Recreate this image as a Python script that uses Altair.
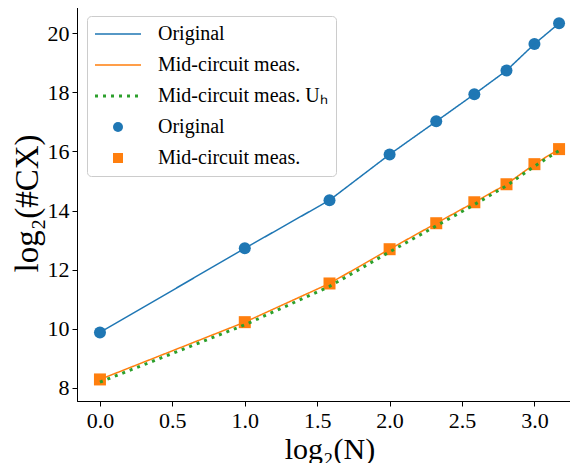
import altair as alt
import pandas as pd

# log2(N) for N = 1..9
x_vals = [0.0, 1.0, 1.585, 2.0, 2.322, 2.585, 2.807, 3.0, 3.170]
orig_vals = [9.87, 12.72, 14.35, 15.90, 17.02, 17.94, 18.74, 19.64, 20.34]
mid_vals = [8.28, 10.22, 11.53, 12.69, 13.57, 14.28, 14.89, 15.57, 16.08]
uh_vals = [8.19, 10.13, 11.43, 12.60, 13.48, 14.20, 14.84, 15.50, 16.03]

entries = ["Original", "Mid-circuit meas.", "Mid-circuit meas. Uₕ",
           "Original ", "Mid-circuit meas. "]
colors = ["#1f77b4", "#ff7f0e", "#2ca02c", "#1f77b4", "#ff7f0e"]
dashes = [[1, 0], [1, 0], [3, 5], [1, 0], [1, 0]]
widths = [1.5, 1.5, 3, 0, 0]
shapes = ["M-4.6,0H4.6", "M-4.6,0H4.6", "M-4.6,0H4.6", "circle", "square"]

x_ticks = [0.0, 0.5, 1.0, 1.5, 2.0, 2.5, 3.0]
y_ticks = [8, 10, 12, 14, 16, 18, 20]

FONT = "Liberation Serif"

rows_line = []
for name, ys in [(entries[0], orig_vals), (entries[1], mid_vals), (entries[2], uh_vals)]:
    for i, (xv, yv) in enumerate(zip(x_vals, ys)):
        rows_line.append({"x": xv, "y": yv, "entry": name, "i": i})
lines_df = pd.DataFrame(rows_line)

rows_pt = []
for name, ys in [(entries[3], orig_vals), (entries[4], mid_vals)]:
    for xv, yv in zip(x_vals, ys):
        rows_pt.append({"x": xv, "y": yv, "entry": name})
pts_df = pd.DataFrame(rows_pt)

xs = alt.X("x:Q", scale=alt.Scale(domain=[-0.1585, 3.3284], nice=False, zero=False),
           axis=alt.Axis(values=x_ticks, format=".1f", title="log₂(N)",
                         titlePadding=3, labelPadding=4, titleFontSize=30))
ys = alt.Y("y:Q", scale=alt.Scale(domain=[7.55, 20.96], nice=False, zero=False),
           axis=alt.Axis(values=y_ticks, format="d", title="log₂(#CX)",
                         titlePadding=3, labelPadding=3, titleFontSize=33))

leg = alt.Legend(title=None)

color_enc = alt.Color("entry:N", scale=alt.Scale(domain=entries, range=colors), legend=leg)

points = alt.Chart(pts_df).mark_point(filled=True, opacity=1, size=144).encode(
    x=xs, y=ys, color=color_enc,
    shape=alt.Shape("entry:N", scale=alt.Scale(domain=entries, range=shapes), legend=leg),
)

lines = alt.Chart(lines_df).mark_line().encode(
    x=xs, y=ys, color=color_enc,
    strokeDash=alt.StrokeDash("entry:N", scale=alt.Scale(domain=entries, range=dashes), legend=leg),
    strokeWidth=alt.StrokeWidth("entry:N", scale=alt.Scale(type="ordinal", domain=entries, range=widths),
                                legend=leg),
    order="i:Q",
)

chart = alt.layer(points, lines).properties(
    width=505, height=396,
    autosize=alt.AutoSizeParams(type="none"),
    padding={"left": 69, "top": -3, "right": -12, "bottom": 62},
).configure(
    font=FONT,
    style={"guide-label": {"font": FONT, "fontWeight": "normal"},
           "guide-title": {"font": FONT, "fontWeight": "normal"}},
).configure_view(
    stroke="black", strokeWidth=1
).configure_axis(
    grid=False,
    domainColor="black", domainWidth=1,
    tickColor="black", tickSize=5, tickWidth=1,
    labelFont=FONT, labelFontSize=22, labelColor="black", labelFontWeight="normal",
    titleFont=FONT, titleFontWeight="normal", titleColor="black",
).configure_legend(
    orient="none", legendX=10, legendY=11,
    padding=8, strokeColor="#cccccc", cornerRadius=4, fillColor="rgba(255,255,255,0.85)",
    labelFont=FONT, labelFontSize=20, labelColor="black", labelLimit=400,
    symbolSize=100, symbolStrokeWidth=2, symbolOffset=13, labelOffset=30, rowPadding=11,
    symbolOpacity=1,
)

chart.save("out.html", embed_options={"renderer": "svg", "actions": False})
